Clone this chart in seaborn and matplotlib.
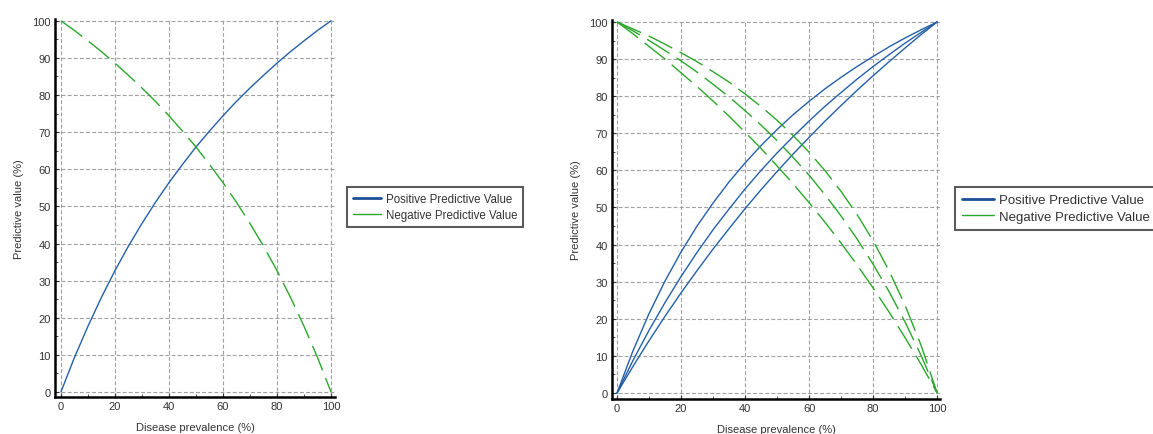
import numpy as np
import pandas as pd
import matplotlib
matplotlib.use("Agg")
import matplotlib.pyplot as plt
from matplotlib.lines import Line2D
from matplotlib.ticker import MultipleLocator
import seaborn as sns

# ==============================================================================
# DATOS
# ==============================================================================
prevalence = [0, 5, 10, 15, 20, 25, 30, 35, 40, 45, 50,
              55, 60, 65, 70, 75, 80, 85, 90, 95, 100]

# Panel izquierdo
ppv_left = [0, 9.3, 17.7, 25.5, 32.7, 39.3, 45.4, 51.1, 56.4, 61.3, 66.0,
            70.3, 74.4, 78.3, 81.9, 85.3, 88.6, 91.7, 94.6, 97.4, 100]
npv_left = [100, 97.4, 94.6, 91.7, 88.6, 85.3, 81.9, 78.3, 74.4, 70.3, 66.0,
            61.3, 56.4, 51.1, 45.4, 39.3, 32.7, 25.5, 17.7, 9.3, 0]

# Panel derecho (tres curvas de cada tipo)
ppv_right_hi = [0, 11.4, 21.4, 30.2, 38.0, 45.0, 51.2, 56.9, 62.0, 66.7, 71.0,
                75.0, 78.6, 82.0, 85.1, 88.0, 90.7, 93.3, 95.7, 97.9, 100]
ppv_right_mid = [0, 8.8, 16.9, 24.4, 31.4, 37.9, 44.0, 49.6, 55.0, 60.0, 64.7,
                 69.1, 73.3, 77.3, 81.0, 84.6, 88.0, 91.2, 94.3, 97.2, 100]
ppv_right_lo = [0, 7.2, 14.1, 20.7, 27.0, 33.0, 38.8, 44.3, 49.7, 54.8, 59.7,
                64.4, 68.9, 73.3, 77.5, 81.6, 85.5, 89.3, 93.0, 96.6, 100]
npv_right_hi = [100, 98.1, 96.2, 94.0, 91.7, 89.3, 86.6, 83.8, 80.6, 77.2, 73.5,
                69.4, 64.9, 59.9, 54.3, 48.1, 41.0, 32.9, 23.6, 12.8, 0]
npv_right_mid = [100, 97.6, 95.0, 92.3, 89.5, 86.5, 83.2, 79.8, 76.1, 72.2, 68.0,
                 63.5, 58.7, 53.4, 47.7, 41.5, 34.7, 27.3, 19.1, 10.1, 0]
npv_right_lo = [100, 96.8, 93.4, 90.0, 86.3, 82.6, 78.7, 74.6, 70.3, 65.9, 61.2,
                56.4, 51.3, 46.0, 40.4, 34.5, 28.3, 21.8, 14.9, 7.7, 0]

x_ticks = [0, 20, 40, 60, 80, 100]
y_ticks = [0, 10, 20, 30, 40, 50, 60, 70, 80, 90, 100]
legend_labels = ["Positive Predictive Value", "Negative Predictive Value"]

# ==============================================================================
# ESTILO
# ==============================================================================
sns.set_theme(style="white")
plt.rcParams.update({
    'font.family': ['Liberation Sans', 'DejaVu Sans'],
    'font.size': 8,
})

BLUE = '#2460a8'
BLUE_LEG = '#1c4f96'
GREEN = '#2aa82a'
GRID = '#a0a0a0'
DASH = (0, (19, 6))


def estilo_ejes(ax, xlim, ylim):
    ax.set_xlim(*xlim)
    ax.set_ylim(*ylim)
    ax.set_xticks(x_ticks)
    ax.set_yticks(y_ticks)
    ax.xaxis.set_minor_locator(MultipleLocator(10))
    ax.yaxis.set_minor_locator(MultipleLocator(5))
    ax.grid(True, which='major', color=GRID, linestyle=(0, (3.5, 2)), linewidth=0.8)
    for s in ['top', 'right']:
        ax.spines[s].set_visible(False)
    for s in ['left', 'bottom']:
        ax.spines[s].set_color('black')
        ax.spines[s].set_linewidth(1.8)
    ax.tick_params(which='major', direction='in', length=3, width=0.8,
                   color='#333333', labelsize=8, labelcolor='#333333', pad=3)
    ax.tick_params(which='minor', direction='in', length=2, width=0.6, color='#333333')
    ax.tick_params(axis='x', which='both', bottom=True)
    ax.tick_params(axis='y', which='both', left=True)
    ax.set_xlabel('Disease prevalence (%)', fontsize=8, color='#333333', labelpad=8)
    ax.set_ylabel('Predictive value (%)', fontsize=8, color='#333333', labelpad=6)


def leyenda(ax, x_fig, y_fig, size):
    handles = [Line2D([], [], color=BLUE_LEG, linewidth=2.0),
               Line2D([], [], color=GREEN, linewidth=1.0)]
    leg = ax.legend(handles, legend_labels, loc='upper left',
                    bbox_to_anchor=(x_fig, y_fig), bbox_transform=ax.figure.transFigure,
                    fontsize=size, frameon=True, fancybox=False, handlelength=2.4,
                    handletextpad=0.4, borderpad=0.55, labelspacing=0.3,
                    borderaxespad=0)
    leg.get_frame().set_edgecolor('#333333')
    leg.get_frame().set_linewidth(1.5)
    for t in leg.get_texts():
        t.set_color('#333333')


fig = plt.figure(figsize=(11.53, 4.35), dpi=100)
ax1 = fig.add_axes([0.0477, 0.0851, 0.2429, 0.869])
ax2 = fig.add_axes([0.5308, 0.0805, 0.2845, 0.871])

# --- Panel izquierdo ---
sns.lineplot(x=prevalence, y=ppv_left, color=BLUE, linewidth=1.0, ax=ax1, legend=False)
sns.lineplot(x=prevalence, y=npv_left, color=GREEN, linewidth=1.0, linestyle=DASH,
             ax=ax1, legend=False)
estilo_ejes(ax1, (-2.2, 101.5), (-1.35, 100.5))
leyenda(ax1, 347 / 1153, (435 - 188) / 435, 8.3)

# --- Panel derecho ---
for serie in [ppv_right_hi, ppv_right_mid, ppv_right_lo]:
    sns.lineplot(x=prevalence, y=serie, color=BLUE, linewidth=1.0, ax=ax2, legend=False)
for serie in [npv_right_hi, npv_right_mid, npv_right_lo]:
    sns.lineplot(x=prevalence, y=serie, color=GREEN, linewidth=1.0, linestyle=DASH,
                 ax=ax2, legend=False)
estilo_ejes(ax2, (-1.56, 100.9), (-1.6, 100.5))
leyenda(ax2, 955 / 1153, (435 - 188) / 435, 9.5)

fig.savefig('out.png', dpi=100)
